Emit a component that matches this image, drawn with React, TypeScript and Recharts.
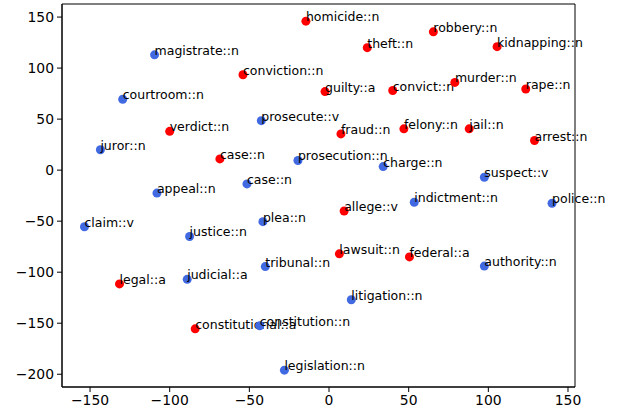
import React from 'react';
import { ScatterChart, Scatter, XAxis, YAxis, ReferenceArea } from 'recharts';

const RED = '#ff0000';
const BLUE = '#4169e1';

// red group
const redWords = [
  'homicide::n', 'conviction::n', 'verdict::n', 'case::n', 'legal::a', 'constitutional::a',
  'theft::n', 'robbery::n', 'kidnapping::n', 'guilty::a', 'convict::n', 'murder::n',
  'rape::n', 'fraud::n', 'felony::n', 'jail::n', 'arrest::n', 'allege::v', 'lawsuit::n',
  'federal::a',
];
const redX = [-14.5, -54, -100, -68.5, -131.5, -84, 24, 65.5, 105.5, -2.5, 40, 79, 123.5, 7.5, 47, 88, 129, 9.5, 6.5, 50.5];
const redY = [146, 93.5, 38, 11, -111.5, -155.5, 120, 135.5, 121, 77, 78, 86, 79.5, 35.5, 40.5, 40.5, 29, -40, -82, -85];

// blue group
const blueWords = [
  'magistrate::n', 'courtroom::n', 'prosecute::v', 'juror::n', 'prosecution::n', 'case::n',
  'appeal::n', 'claim::v', 'plea::n', 'justice::n', 'tribunal::n', 'judicial::a',
  'constitution::n', 'legislation::n', 'charge::n', 'suspect::v', 'indictment::n',
  'police::n', 'authority::n', 'litigation::n',
];
const blueX = [-109.5, -129.5, -42.5, -143.5, -19.5, -51.5, -108, -153.5, -41.5, -87.5, -40, -89, -43.5, -28, 34, 97.5, 53.5, 140, 97.5, 14];
const blueY = [113, 69.5, 48.5, 20, 9.5, -13.5, -22.5, -55.5, -50.5, -65, -94.5, -107, -152.5, -196, 3.5, -7, -31.5, -32.5, -94, -127];

const xTicks = [-150, -100, -50, 0, 50, 100, 150];
const yTicks = [150, 100, 50, 0, -50, -100, -150, -200];
const xDomain = [-167.6, 154.4];
const yDomain = [-212.5, 162.8];

const redData = redWords.map((word, i) => ({ x: redX[i], y: redY[i], word }));
const blueData = blueWords.map((word, i) => ({ x: blueX[i], y: blueY[i], word }));

const FONT = '"DejaVu Sans", sans-serif';
const fmt = (v: number) => String(v).replace('-', '\u2212');

function Dot(props: any) {
  const { cx, cy, fill, payload } = props;
  return (
    <g>
      <circle cx={cx} cy={cy} r={4.5} fill={fill} />
      <text x={cx} y={cy} fontSize={12.5} fontFamily={FONT} fill="#000">
        {payload.word}
      </text>
    </g>
  );
}

export default function App() {
  const tickStyle = { fontSize: 13.9, fontFamily: FONT, fill: '#000' };
  return (
    <div style={{ position: 'absolute', left: 0, top: 0, background: '#fff' }}>
      <ScatterChart width={617} height={412} margin={{ top: 4, right: 42, bottom: 0, left: 0 }}>
        <XAxis
          type="number"
          dataKey="x"
          domain={xDomain}
          ticks={xTicks}
          tickFormatter={fmt}
          tick={tickStyle}
          tickSize={5}
          tickMargin={3}
          height={25}
          stroke="#000"
        />
        <YAxis
          type="number"
          dataKey="y"
          domain={yDomain}
          ticks={yTicks}
          tickFormatter={fmt}
          tick={tickStyle}
          tickSize={5}
          tickMargin={3}
          width={62}
          stroke="#000"
        />
        <ReferenceArea
          x1={xDomain[0]}
          x2={xDomain[1]}
          y1={yDomain[0]}
          y2={yDomain[1]}
          fill="none"
          stroke="#000"
          strokeWidth={1}
          ifOverflow="visible"
        />
        <Scatter data={redData} fill={RED} shape={<Dot />} isAnimationActive={false} />
        <Scatter data={blueData} fill={BLUE} shape={<Dot />} isAnimationActive={false} />
      </ScatterChart>
    </div>
  );
}
